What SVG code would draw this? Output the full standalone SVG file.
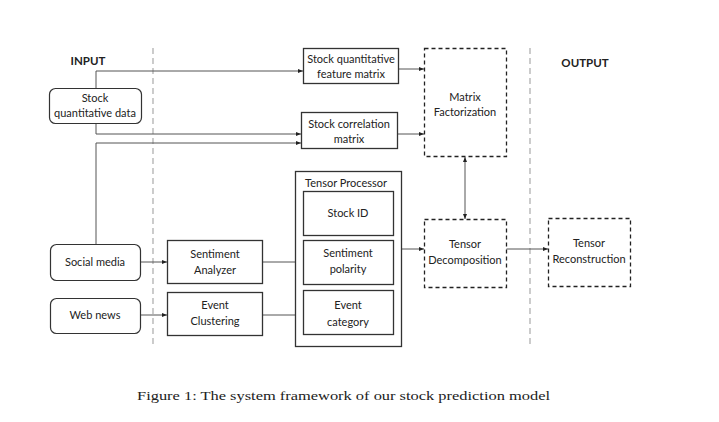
<svg xmlns="http://www.w3.org/2000/svg" width="719" height="422" viewBox="0 0 719 422">
<defs>
<marker id="ah" viewBox="0 0 10 10" refX="10" refY="5" markerWidth="5" markerHeight="5" orient="auto-start-reverse" markerUnits="userSpaceOnUse">
<path d="M0,1 L10,5 L0,9 z" fill="#222"/>
</marker>
</defs>
<style>
text{font-family:Lato,"Open Sans","Liberation Sans",sans-serif;font-size:11px;fill:#222;text-anchor:middle}
.hd{font-weight:bold;font-size:11.5px}
.box{fill:#fff;stroke:#333;stroke-width:1.3}
.rbox{fill:#fff;stroke:#333;stroke-width:1.2}
.dbox{fill:#fff;stroke:#222;stroke-width:1.3;stroke-dasharray:4 3}
.sep{fill:none;stroke:#aaa;stroke-width:1.2;stroke-dasharray:6 4}
.c{fill:none;stroke:#555;stroke-width:1}
.cap{font-family:"Liberation Serif","DejaVu Serif",serif;font-size:13.5px;text-anchor:start}
</style>
<rect width="719" height="422" fill="#fff"/>
<line class="sep" x1="153" y1="48" x2="153" y2="347"/>
<line class="sep" x1="530" y1="48" x2="530" y2="347"/>
<text class="hd" x="88" y="65">INPUT</text>
<text class="hd" x="585" y="67">OUTPUT</text>
<g id="connectors">
<path class="c" d="M96,88 V71 H303" marker-end="url(#ah)"/>
<path class="c" d="M96,123 V134 H301" marker-end="url(#ah)"/>
<path class="c" d="M96,244 V143 H301" marker-end="url(#ah)"/>
<path class="c" d="M398,69 H424" marker-end="url(#ah)"/>
<path class="c" d="M397,134 H424" marker-end="url(#ah)"/>
<path class="c" d="M465,157 V219" marker-start="url(#ah)" marker-end="url(#ah)"/>
<path class="c" d="M140,262 H167" marker-end="url(#ah)"/>
<path class="c" d="M140,315 H167" marker-end="url(#ah)"/>
<path class="c" d="M263,262 H303" marker-end="url(#ah)"/>
<path class="c" d="M263,315 H303" marker-end="url(#ah)"/>
<path class="c" d="M401,249 H424" marker-end="url(#ah)"/>
<path class="c" d="M506,249 H548" marker-end="url(#ah)"/>
</g>
<g id="stock-data"><rect class="rbox" x="49.5" y="88.5" width="92" height="35" rx="6"/><text x="95" y="102">Stock</text><text x="95" y="117">quantitative data</text></g>
<g id="social-media"><rect class="rbox" x="50.5" y="244.5" width="90" height="36" rx="6"/><text x="95" y="266">Social media</text></g>
<g id="web-news"><rect class="rbox" x="50.5" y="298.5" width="90" height="35" rx="6"/><text x="95" y="319">Web news</text></g>
<g id="feature-matrix"><rect class="box" x="303.5" y="48.5" width="95" height="35"/><text x="351" y="63">Stock quantitative</text><text x="351" y="78">feature matrix</text></g>
<g id="correlation-matrix"><rect class="box" x="301.5" y="112.5" width="96" height="36"/><text x="349" y="128">Stock correlation</text><text x="349" y="143">matrix</text></g>
<g id="matrix-factorization"><rect class="dbox" x="424.5" y="48.5" width="82" height="108"/><text x="465" y="101">Matrix</text><text x="465" y="116">Factorization</text></g>
<g id="sentiment-analyzer"><rect class="box" x="167.5" y="240.5" width="95" height="43"/><text x="215" y="258">Sentiment</text><text x="215" y="274">Analyzer</text></g>
<g id="event-clustering"><rect class="box" x="167.5" y="292.5" width="95" height="43"/><text x="215" y="309">Event</text><text x="215" y="325">Clustering</text></g>
<g id="tensor-processor"><rect class="box" x="295.5" y="171.5" width="106" height="175"/><text x="346" y="187">Tensor Processor</text></g>
<g id="stock-id"><rect class="box" x="303.5" y="191.5" width="90" height="44"/><text x="348" y="217">Stock ID</text></g>
<g id="sentiment-polarity"><rect class="box" x="303.5" y="240.5" width="90" height="44"/><text x="348" y="257">Sentiment</text><text x="348" y="273">polarity</text></g>
<g id="event-category"><rect class="box" x="303.5" y="290.5" width="90" height="44"/><text x="348" y="309">Event</text><text x="348" y="326">category</text></g>
<g id="tensor-decomposition"><rect class="dbox" x="424.5" y="219.5" width="82" height="68"/><text x="465" y="248">Tensor</text><text x="465" y="264">Decomposition</text></g>
<g id="tensor-reconstruction"><rect class="dbox" x="548.5" y="218.5" width="82" height="68"/><text x="589" y="247">Tensor</text><text x="589" y="263">Reconstruction</text></g>
<text class="cap" x="137" y="400" textLength="413" lengthAdjust="spacingAndGlyphs">Figure 1: The system framework of our stock prediction model</text>
</svg>
